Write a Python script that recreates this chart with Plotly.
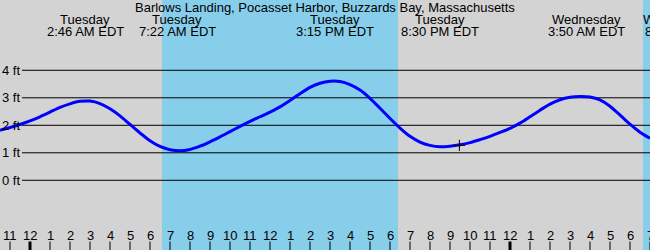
import plotly.graph_objects as go

# ---- data (hours relative to Tuesday 00:00 EDT) ----
curve_hours = [h / 2 for h in range(-3, 63)]  # -1.5 .. 31.0 every half hour
curve_feet = [
    1.82, 1.92, 2.03, 2.16, 2.31, 2.48, 2.65, 2.78, 2.87, 2.88,
    2.79, 2.60, 2.34, 2.03, 1.72, 1.44, 1.23, 1.11, 1.07, 1.12,
    1.24, 1.40, 1.58, 1.77, 1.96, 2.14, 2.31, 2.48, 2.67, 2.90,
    3.15, 3.38, 3.53, 3.60, 3.59, 3.48, 3.28, 2.98, 2.62, 2.25,
    1.90, 1.60, 1.39, 1.27, 1.22, 1.24, 1.29, 1.37, 1.48, 1.60,
    1.74, 1.89, 2.08, 2.31, 2.55, 2.77, 2.93, 3.02, 3.05, 3.03,
    2.92, 2.69, 2.37, 2.04, 1.75, 1.53,
]

event_hours = [2.767, 7.367, 15.25, 20.5, 27.833]
event_days = ["Tuesday", "Tuesday", "Tuesday", "Tuesday", "Wednesday"]
event_times = ["2:46 AM EDT", "7:22 AM EDT", "3:15 PM EDT", "8:30 PM EDT", "3:50 AM EDT"]
edge_event_day = "Wednesday"
edge_event_time = "8:24 AM EDT"

daylight = [(6.6, 18.4), (30.65, 31.6)]  # sunrise/sunset hours

now_hour = [21.47]
now_feet = [1.27]

grid_feet = [0, 1, 2, 3, 4]
grid_labels = ["0 ft", "1 ft", "2 ft", "3 ft", "4 ft"]

tick_hours = list(range(-1, 32))
tick_labels = [str(((h % 24) + 11) % 12 + 1) for h in tick_hours]
midnights = [0, 24]

title_text = "Barlows Landing, Pocasset Harbor, Buzzards Bay, Massachusetts"

# ---- figure ----
W, H = 650, 250
FONT = dict(family="Liberation Sans", size=13, color="black")
GRAY = "#d3d3d3"
BLUE_BG = "#87ceeb"

fig = go.Figure()
fig.add_trace(go.Scatter(
    x=curve_hours, y=curve_feet, mode="lines",
    line=dict(color="#0000ff", width=3, shape="spline", smoothing=0.8),
    hoverinfo="skip", showlegend=False,
))
fig.add_trace(go.Scatter(
    x=now_hour, y=now_feet, mode="markers",
    marker=dict(symbol="cross-thin", size=8, line=dict(color="black", width=1)),
    hoverinfo="skip", showlegend=False,
))

shapes = []
for s, e in daylight:
    shapes.append(dict(type="rect", xref="x", yref="paper", x0=s, x1=e, y0=0, y1=1,
                       fillcolor=BLUE_BG, line=dict(width=0), layer="below"))
for v in grid_feet:
    shapes.append(dict(type="line", xref="paper", yref="y", x0=22 / W, x1=1, y0=v, y1=v,
                       line=dict(color="black", width=1), layer="below"))
for h in tick_hours:
    shapes.append(dict(type="line", xref="x", yref="paper", x0=h, x1=h, y0=0, y1=8.5 / H,
                       line=dict(color="black", width=3 if h in midnights else 1), layer="above"))

annotations = []
annotations.append(dict(text=title_text, xref="paper", yref="paper", x=0.5, y=1 - 7.5 / H,
                        xanchor="center", yanchor="middle", showarrow=False, font=FONT))
for h, d, t in zip(event_hours, event_days, event_times):
    annotations.append(dict(text=d, xref="x", yref="paper", x=h, y=1 - 20 / H,
                            xanchor="center", yanchor="middle", showarrow=False, font=FONT))
    annotations.append(dict(text=t, xref="x", yref="paper", x=h, y=1 - 31.5 / H,
                            xanchor="center", yanchor="middle", showarrow=False, font=FONT))
annotations.append(dict(text=edge_event_day, xref="x", yref="paper", x=31, y=1 - 20 / H,
                        xanchor="left", xshift=-9, yanchor="middle", showarrow=False, font=FONT))
annotations.append(dict(text=edge_event_time, xref="x", yref="paper", x=31, y=1 - 31.5 / H,
                        xanchor="left", xshift=-7, yanchor="middle", showarrow=False, font=FONT))
for v, lab in zip(grid_feet, grid_labels):
    annotations.append(dict(text=lab, xref="paper", yref="y", x=0, y=v, xshift=0,
                            xanchor="left", yanchor="middle", showarrow=False, font=FONT))
for h, lab in zip(tick_hours, tick_labels):
    annotations.append(dict(text=lab, xref="x", yref="paper", x=h, y=14.5 / H,
                            xanchor="center", yanchor="middle", showarrow=False, font=FONT))

fig.update_layout(
    width=W, height=H, autosize=False,
    margin=dict(l=0, r=0, t=0, b=0, pad=0),
    paper_bgcolor=GRAY, plot_bgcolor=GRAY,
    shapes=shapes, annotations=annotations,
    xaxis=dict(range=[-1.5, 31], visible=False, fixedrange=True),
    yaxis=dict(range=[-2.535, 6.556], visible=False, fixedrange=True),
    showlegend=False,
)

fig.write_html("out.html", config={"displayModeBar": False})
